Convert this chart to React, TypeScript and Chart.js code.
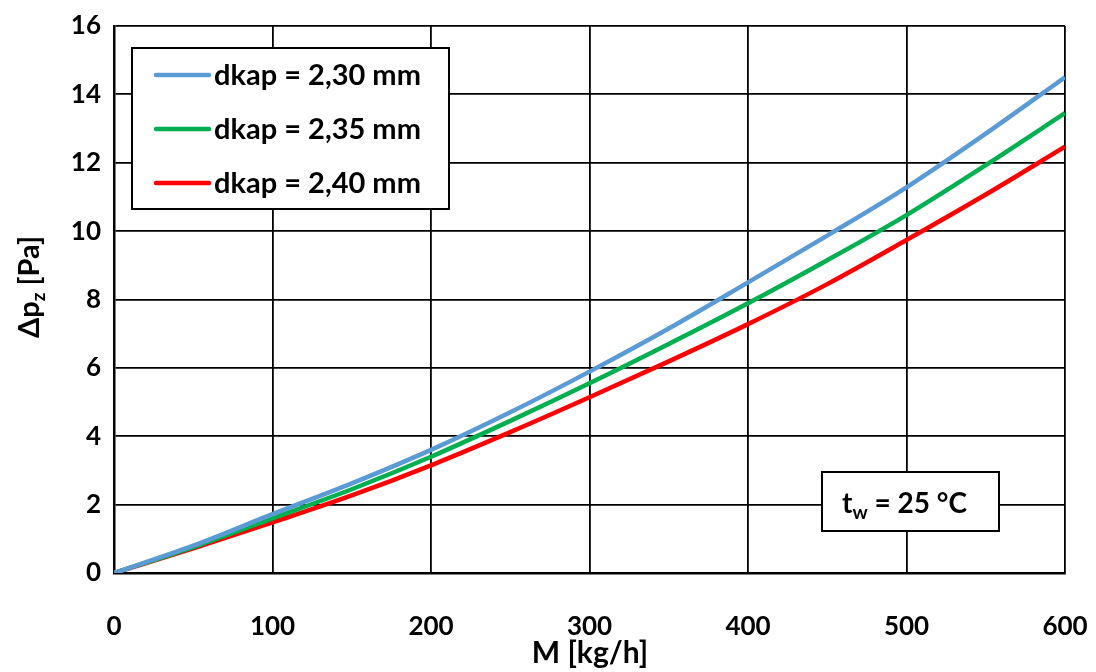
import React, { useEffect, useRef } from "react";
import { Chart, registerables } from "chart.js";

Chart.register(...registerables);

const massFlow = [0, 50, 100, 150, 200, 250, 300, 350, 400, 450, 500, 550, 600];
const dp230 = [0, 0.8, 1.72, 2.62, 3.6, 4.7, 5.89, 7.15, 8.5, 9.87, 11.28, 12.85, 14.5];
const dp235 = [0, 0.76, 1.6, 2.45, 3.4, 4.45, 5.55, 6.7, 7.89, 9.15, 10.47, 11.93, 13.45];
const dp240 = [0, 0.72, 1.48, 2.27, 3.15, 4.12, 5.14, 6.19, 7.28, 8.45, 9.74, 11.07, 12.47];
const seriesLabels = ["dkap = 2,30 mm", "dkap = 2,35 mm", "dkap = 2,40 mm"];
const seriesColors = ["#5B9BD5", "#00B050", "#FF0000"];
const xTitle = "M [kg/h]";
const annotationMain = "t";
const annotationSub = "w";
const annotationRest = " = 25 °C";

const FONT = "Lato, 'Liberation Sans', sans-serif";

const overlayPlugin = {
  id: "overlay",
  afterDraw(chart: any) {
    const ctx = chart.ctx as CanvasRenderingContext2D;
    ctx.save();
    // Legend
    const lx = 132, ly = 48, lw = 317, lh = 161;
    ctx.fillStyle = "#fff";
    ctx.fillRect(lx, ly, lw, lh);
    ctx.strokeStyle = "#000";
    ctx.lineWidth = 2;
    ctx.strokeRect(lx, ly, lw, lh);
    ctx.font = `bold 29px ${FONT}`;
    ctx.textBaseline = "middle";
    ctx.textAlign = "left";
    chart.data.datasets.forEach((ds: any, i: number) => {
      const y = 75 + i * 54;
      ctx.strokeStyle = ds.borderColor;
      ctx.lineWidth = 4.5;
      ctx.lineCap = "round";
      ctx.beginPath();
      ctx.moveTo(156, y);
      ctx.lineTo(209, y);
      ctx.stroke();
      ctx.fillStyle = "#000";
      ctx.fillText(ds.label, 214, y + 1);
    });
    // Annotation box
    const ax = 822, ay = 472, aw = 177, ah = 59;
    ctx.fillStyle = "#fff";
    ctx.fillRect(ax, ay, aw, ah);
    ctx.strokeStyle = "#000";
    ctx.lineWidth = 2;
    ctx.lineCap = "butt";
    ctx.strokeRect(ax, ay, aw, ah);
    ctx.fillStyle = "#000";
    ctx.textBaseline = "alphabetic";
    ctx.font = `bold 28px ${FONT}`;
    let tx = 842;
    const base = 513;
    ctx.fillText(annotationMain, tx, base);
    tx += ctx.measureText(annotationMain).width;
    ctx.font = `bold 19px ${FONT}`;
    ctx.fillText(annotationSub, tx, base + 6);
    tx += ctx.measureText(annotationSub).width;
    ctx.font = `bold 28px ${FONT}`;
    ctx.fillText(annotationRest, tx, base);
    // X title
    ctx.font = `bold 30px ${FONT}`;
    ctx.textAlign = "center";
    ctx.textBaseline = "alphabetic";
    ctx.fillText(xTitle, 590, 663);
    // Y title rotated
    ctx.translate(28, 287);
    ctx.rotate(-Math.PI / 2);
    ctx.textAlign = "left";
    ctx.textBaseline = "alphabetic";
    const p1 = "Δp", p2 = "z", p3 = " [Pa]";
    ctx.font = `bold 29px ${FONT}`;
    const w1 = ctx.measureText(p1).width;
    const w3 = ctx.measureText(p3).width;
    ctx.font = `bold 19px ${FONT}`;
    const w2 = ctx.measureText(p2).width;
    let sx = -(w1 + w2 + w3) / 2;
    const yb = 11;
    ctx.font = `bold 29px ${FONT}`;
    ctx.fillText(p1, sx, yb);
    sx += w1;
    ctx.font = `bold 19px ${FONT}`;
    ctx.fillText(p2, sx, yb + 6);
    sx += w2;
    ctx.font = `bold 29px ${FONT}`;
    ctx.fillText(p3, sx, yb);
    ctx.restore();
  },
};

export default function App() {
  const ref = useRef<HTMLCanvasElement>(null);
  useEffect(() => {
    if (!ref.current) return;
    const mk = (vals: number[]) => massFlow.map((x, i) => ({ x, y: vals[i] }));
    const chart = new Chart(ref.current, {
      type: "line",
      data: {
        datasets: [dp230, dp235, dp240].map((vals, i) => ({
          label: seriesLabels[i],
          data: mk(vals),
          borderColor: seriesColors[i],
          backgroundColor: seriesColors[i],
          borderWidth: 4.5,
          pointRadius: 0,
          cubicInterpolationMode: "monotone" as const,
          fill: false,
        })),
      },
      options: {
        animation: false,
        responsive: false,
        layout: { padding: { left: 0, top: 26, right: 31, bottom: 0 } },
        plugins: { legend: { display: false }, tooltip: { enabled: false } },
        scales: {
          x: {
            type: "linear",
            min: 0,
            max: 600,
            ticks: { stepSize: 100, color: "#000", font: { family: FONT, size: 26, weight: "bold" }, padding: 38 },
            grid: { color: "#000", lineWidth: 1.8, drawTicks: false },
            border: { color: "#000", width: 2.5 },
            afterFit(scale: any) {
              scale.height = 99;
              scale.paddingLeft = 0;
              scale.paddingRight = 0;
            },
          },
          y: {
            min: 0,
            max: 16,
            ticks: { stepSize: 2, color: "#000", font: { family: FONT, size: 26, weight: "bold" }, padding: 13 },
            grid: { color: "#000", lineWidth: 1.8, drawTicks: false },
            border: { color: "#000", width: 2.5 },
            afterFit(scale: any) {
              scale.width = 114;
              scale.paddingTop = 0;
              scale.paddingBottom = 0;
            },
          },
        },
      },
      plugins: [overlayPlugin],
    });
    return () => chart.destroy();
  }, []);
  return (
    <div style={{ position: "fixed", left: 0, top: 0, width: 1096, height: 672, background: "#fff" }}>
      <canvas ref={ref} width={1096} height={672} style={{ width: 1096, height: 672 }} />
    </div>
  );
}
